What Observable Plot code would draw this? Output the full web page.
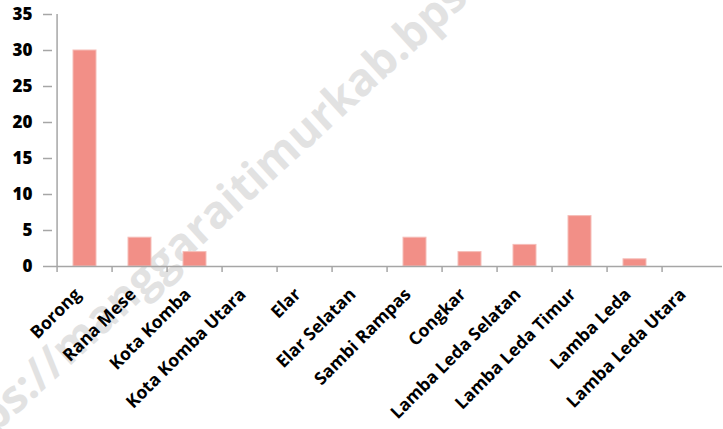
<!DOCTYPE html>
<html>
<head>
<meta charset="utf-8">
<script src="https://cdn.jsdelivr.net/npm/d3@7"></script>
<script src="https://cdn.jsdelivr.net/npm/@observablehq/plot@0.6"></script>
<style>
  html, body { margin: 0; padding: 0; background: #fff; }
  #wrap { position: relative; width: 723px; height: 429px; overflow: hidden; }
  #wm { position: absolute; left: 0; top: 0; white-space: nowrap; font-family: "Open Sans", sans-serif;
        font-weight: 700; font-size: 45px; color: #e2e2e2; transform-origin: 0 0; pointer-events: none; }
  svg { position: absolute; left: 0; top: 0; }
</style>
</head>
<body>
<div id="wrap">
  <div id="wm">https://manggaraitimurkab.bps.go.id</div>
</div>
<script>
const categories = ["Borong", "Rana Mese", "Kota Komba", "Kota Komba Utara", "Elar", "Elar Selatan",
  "Sambi Rampas", "Congkar", "Lamba Leda Selatan", "Lamba Leda Timur", "Lamba Leda", "Lamba Leda Utara"];
const values = [30, 4, 2, 0, 0, 0, 4, 2, 3, 7, 1, 0];
const yTicks = [0, 5, 10, 15, 20, 25, 30, 35];

const data = categories.map((c, i) => ({category: c, value: values[i]}));
const W = 723, H = 429, ML = 52, MR = 1, MT = 14, MB = 163;
const step = (W - ML - MR) / categories.length;
const axisColor = "#a6a6a6";
const font = "'Open Sans', sans-serif";

const plot = Plot.plot({
  width: W, height: H,
  marginLeft: ML, marginRight: MR, marginTop: MT, marginBottom: MB,
  style: {fontFamily: font, background: "transparent"},
  x: {domain: categories, paddingInner: 0.59, paddingOuter: 0.295, axis: null},
  y: {domain: [0, 35]},
  marks: [
    Plot.barY(data, {x: "category", y: "value", fill: "#f28f87", stroke: "#f5bdb8", strokeWidth: 1}),
    Plot.axisY(yTicks, {tickSize: 9, tickPadding: 11, stroke: axisColor, strokeWidth: 1.5, fill: "#000",
      fontSize: 17, fontWeight: 800, label: null}),
    // y axis line
    Plot.ruleX([0], {x: () => categories[0], dx: -step / 2, y1: 0, y2: 35, stroke: axisColor, strokeWidth: 1.5}),
    // x axis line
    Plot.ruleY([0], {stroke: axisColor, strokeWidth: 1.5}),
    // x boundary ticks
    Plot.ruleX(categories, {x: d => d, dx: -step / 2, y1: 0, y2: -0.85, stroke: axisColor, strokeWidth: 1.5}),
    // x labels
    Plot.text(categories, {x: d => d, y: 0, dx: -7, dy: 25, rotate: -45, textAnchor: "end", text: d => d,
      fontWeight: 700, fontSize: 17.5, fill: "#000"})
  ]
});
document.getElementById("wrap").appendChild(plot);

const wm = document.getElementById("wm");
wm.style.transform = "translate(-89px, 446px) rotate(-42.4deg)";
</script>
</body>
</html>
